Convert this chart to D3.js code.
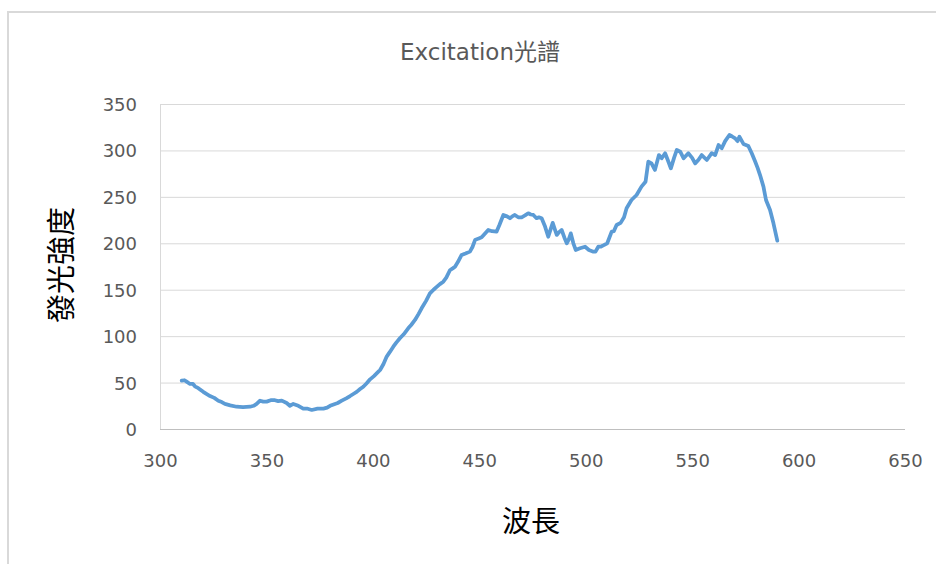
<!DOCTYPE html>
<html>
<head>
<meta charset="utf-8">
<script src="https://cdn.jsdelivr.net/npm/d3@7/dist/d3.min.js"></script>
<style>
html,body{margin:0;padding:0;background:#fff;}
svg{display:block;}
</style>
</head>
<body>
<svg id="chart" width="936" height="564"></svg>
<script>
const titleText = "Excitation光譜";
const xTitle = "波長";
const yTitle = "發光強度";
const xTicks = [300, 350, 400, 450, 500, 550, 600, 650];
const yTicks = [0, 50, 100, 150, 200, 250, 300, 350];

const wavelength = [
310.2,311.5,312.5,314.1,315.5,316.4,318,320.3,322,323.5,325.5,327.4,329,330.5,333,336,339,342.3,344,345.4,
347,348.5,350.1,352,354,355.5,357.2,359.5,361,362.6,365,367.3,369,371.3,374,376.8,378.5,379.9,382.2,383.5,
385.4,387.5,389.3,391,392.4,394,395.5,397,398.7,400.5,402.6,403.4,405,406.5,408,409.6,411,412.7,414.5,416.6,
418,419.8,421.5,422.9,425,426.8,428.5,430,431.5,433.1,434.5,436.2,437.5,438.6,440,441.7,443.5,445.6,446.8,448,
449.5,451.1,452.5,454.2,456,458.1,459.5,461.3,463,464.4,465.5,466.7,468.3,469.9,471.5,473,474.2,475.4,476.9,478,
479.3,480.9,482.4,483.5,484.5,485.5,486.4,487.5,488.7,490,491.1,492,493,494.2,495.3,497.3,499.7,501.5,503.6,504.6,
505.9,507,508.5,510.1,512.2,513.2,514.5,516.4,518,519.2,521.5,523.9,526.2,528.1,529.4,530.9,532.5,534.4,535.7,537.3,
538.5,540,541.5,542.8,544.4,546,548.2,550,551.4,553,554.5,556.9,559.2,560.8,562.4,563.9,565.5,567.5,568.8,570.2,
571.3,572.2,574.1,576.4,578,579.6,580.8,581.9,583.5,584.7,586.6,588.2,590
];
const intensity = [
52,52.5,51,48.5,48.5,46,44,40,37.5,35.5,33.5,30.5,29,27,25.5,24,23.5,24,25,27,
30.5,29.5,29.5,31,31,30,30.5,28,25,27,25,22,22,20.5,22,22,23,25,27,28,
30.5,33,35.5,38,40,43,45.5,49,53.5,57,61.7,63.5,70,78,83,88.6,93,97.7,102,108.4,
112,117.4,124,130,138,146,150,153,156,158.6,163,171,173,174.8,180,187.4,189,191,196,203.5,
205,206.4,210,214.3,213,212.5,220,230.5,229,227,229,230.5,228,228,230,232.3,231,230.5,227,228,
227,218,207,215,222,215,209,212,214.3,206,200,204,210.7,200,192.8,194.6,196.3,192.8,191,191,
196.3,196.3,198,200,212.5,213,219.7,222,228,237.7,246.6,252,261,266.3,287.9,286,279,295,291.5,297,
290,280.7,292,300.5,298.6,291.5,297,292,286,290,295,289.7,297,295,305.8,302.3,310,316.6,315,313,
310,314.8,307,304.8,297,288,281,273.5,261,246.6,235.8,221.5,202.8
];

const data = wavelength.map((w, i) => ({w, v: intensity[i]}));

const svg = d3.select("#chart");
const plotLeft = 160, plotRight = 905, plotTop = 104, plotBottom = 429;

const x = d3.scaleLinear().domain([300, 650]).range([plotLeft, plotRight]);
const y = d3.scaleLinear().domain([0, 350]).range([plotBottom, plotTop]);

// outer frame
svg.append("rect").attr("x", 8).attr("y", 12).attr("width", 1000).attr("height", 700)
  .attr("fill", "none").attr("stroke", "#d9d9d9").attr("stroke-width", 2);

// gridlines
svg.append("g").selectAll("line").data(yTicks.filter(d => d > 0)).join("line")
  .attr("x1", plotLeft).attr("x2", plotRight)
  .attr("y1", d => y(d) + 0.5).attr("y2", d => y(d) + 0.5)
  .attr("stroke", "#d9d9d9").attr("stroke-width", 1);

// axes lines
svg.append("line").attr("x1", plotLeft + 0.5).attr("x2", plotLeft + 0.5).attr("y1", plotTop).attr("y2", plotBottom)
  .attr("stroke", "#d9d9d9").attr("stroke-width", 1);
svg.append("line").attr("x1", plotLeft).attr("x2", plotRight).attr("y1", plotBottom + 0.5).attr("y2", plotBottom + 0.5)
  .attr("stroke", "#bfbfbf").attr("stroke-width", 1);

const tickFont = "'DejaVu Sans', sans-serif";

// y tick labels via axis
const yAxis = d3.axisLeft(y).tickValues(yTicks).tickSize(0).tickPadding(0);
const gy = svg.append("g").attr("transform", `translate(${plotLeft - 23},0)`).call(yAxis);
gy.select(".domain").remove();
gy.selectAll("text").attr("fill", "#595959").style("font-family", tickFont).style("font-size", "18px").attr("dy", "0.36em");

const xAxis = d3.axisBottom(x).tickValues(xTicks).tickSize(0).tickPadding(0);
const gx = svg.append("g").attr("transform", `translate(0,${plotBottom + 32})`).call(xAxis);
gx.select(".domain").remove();
gx.selectAll("text").attr("fill", "#595959").style("font-family", tickFont).style("font-size", "18px").attr("dy", "0.36em");

// line
const line = d3.line().x(d => x(d.w)).y(d => y(d.v)).curve(d3.curveLinear);
svg.append("path").datum(data).attr("d", line)
  .attr("fill", "none").attr("stroke", "#5b9bd5").attr("stroke-width", 3.75)
  .attr("stroke-linejoin", "round").attr("stroke-linecap", "round");

// title
svg.append("text").attr("x", 480).attr("y", 52).attr("dy", "0.36em")
  .attr("text-anchor", "middle").attr("fill", "#595959")
  .style("font-family", "'DejaVu Sans', 'Noto Sans CJK TC', sans-serif").style("font-size", "23px")
  .text(titleText);

// axis titles
svg.append("text").attr("x", 531).attr("y", 522).attr("dy", "0.36em")
  .attr("text-anchor", "middle").attr("fill", "#000")
  .style("font-family", "'Noto Sans CJK TC', sans-serif").style("font-size", "29px")
  .text(xTitle);

svg.append("text").attr("transform", "translate(62,265) rotate(-90)").attr("dy", "0.36em")
  .attr("text-anchor", "middle").attr("fill", "#000")
  .style("font-family", "'Noto Sans CJK TC', sans-serif").style("font-size", "29px")
  .text(yTitle);
</script>
</body>
</html>
